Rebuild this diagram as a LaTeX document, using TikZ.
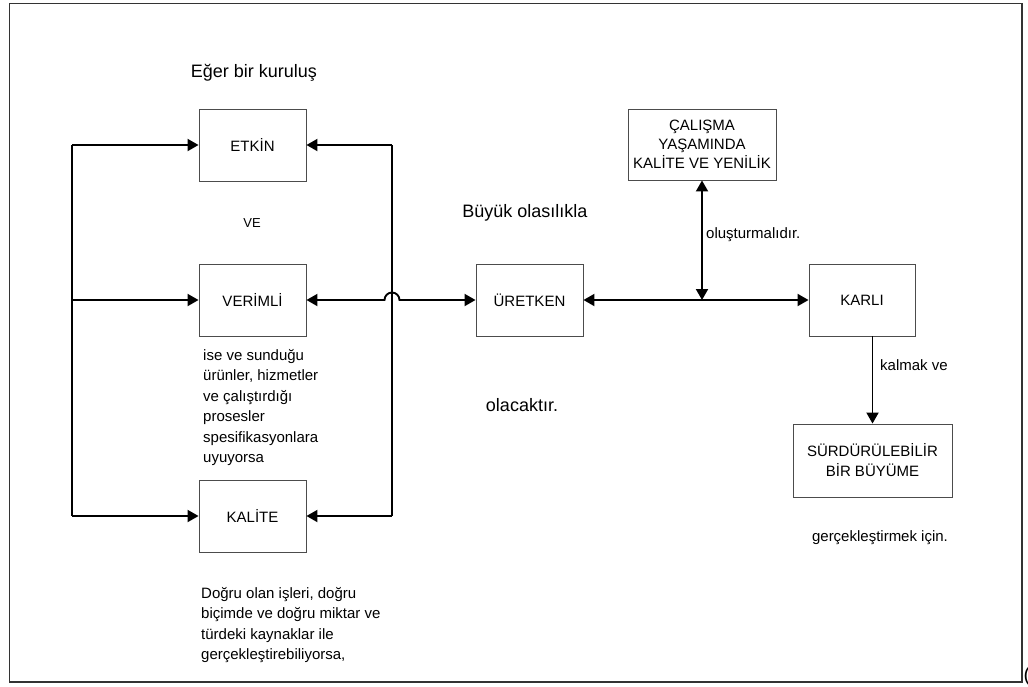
\documentclass[tikz,border=0pt]{standalone}
\usepackage{fontspec}
\setmainfont{Liberation Sans}
\usetikzlibrary{arrows.meta,calc}

\begin{document}
\begin{tikzpicture}[x=1pt,y=-1pt,
  box/.style={draw=black!70, line width=0.9pt, minimum width=107pt, minimum height=72pt,
    inner sep=0pt, align=center, font=\fontsize{15}{19}\selectfont},
  conn/.style={line width=1.9pt, black},
  tip/.tip={Triangle[length=11pt,width=12pt]},
  arr/.style={conn, -tip},
  darr/.style={conn, tip-tip},
  lbl/.style={inner sep=0pt, font=\fontsize{15}{20.5}\selectfont},
  big/.style={inner sep=0pt, font=\fontsize{18}{22}\selectfont}]

\useasboundingbox (0,0) rectangle (1028,686);
\draw[black!80, line width=1.3pt] (9.5,3.5) rectangle (1022,682);

% boxes
\node[box] (etkin) at (252.5,145) {ETKİN};
\node[box] (verimli) at (252.5,300) {VERİMLİ};
\node[box] (kalite) at (252.5,516) {KALİTE};
\node[box] (uretken) at (529.5,300) {ÜRETKEN};
\node[box, minimum width=106pt] (karli) at (862,300) {KARLI};
\node[box, minimum width=148pt, minimum height=71pt] (calisma) at (702,144.5)
  {ÇALIŞMA\\YAŞAMINDA\\KALİTE VE YENİLİK};
\node[box, minimum width=159pt, minimum height=73pt, font=\fontsize{15}{20}\selectfont] (surd) at (872.5,460.5)
  {SÜRDÜRÜLEBİLİR\\BİR BÜYÜME};

% bus lines on both sides of the left column
\coordinate (lt) at (72,145);
\coordinate (lm) at (72,300);
\coordinate (lb) at (72,516);
\coordinate (rt) at (392,145);
\coordinate (hop) at (392,300);
\coordinate (rb) at (392,516);
\coordinate (tee) at (calisma.south |- uretken.east);

\draw[conn] (lt) -- (lb);
\draw[arr] (lt) -- (etkin.west);
\draw[arr] (lm) -- (verimli.west);
\draw[arr] (lb) -- (kalite.west);
\draw[conn] (rt) -- (rb);
\draw[arr] (rt) -- (etkin.east);
\draw[arr] (rb) -- (kalite.east);

% main horizontal flow
\draw[darr] (uretken.west) -- ($(hop)+(7.5,0)$)
  arc[start angle=0, end angle=180, radius=7.5pt] -- (verimli.east);
\draw[darr] (uretken.east) -- (karli.west);
\draw[darr] (calisma.south) -- (tee);
\draw[arr] (surd.north |- karli.south) -- (surd.north);

% texts
\node[big] (eger) at (254,73) {Eğer bir kuruluş};
\node[inner sep=0pt, font=\fontsize{13}{15}\selectfont] (ve) at (252,223) {VE};
\node[big] (buyuk) at (525,213) {Büyük olasılıkla};
\node[big] (olacak) at (522,405) {olacaktır.};
\node[lbl, anchor=west] (olus) at (706,235) {oluşturmalıdır.};
\node[lbl, anchor=west] (kalmak) at (880,365) {kalmak ve};
\node[lbl] (gercek) at (880,538) {gerçekleştirmek için.};
\node[lbl, anchor=north west, align=left] (ise) at (203,349)
  {ise ve sunduğu\\ürünler, hizmetler\\ve çalıştırdığı\\prosesler\\spesifikasyonlara\\uyuyorsa};
\node[lbl, anchor=north west, align=left] (dogru) at (201,587)
  {Doğru olan işleri, doğru\\biçimde ve doğru miktar ve\\türdeki kaynaklar ile\\gerçekleştirebiliyorsa,};
\node[inner sep=0pt, anchor=west, font=\fontsize{20}{24}\selectfont] (cut) at (1023.5,676) {(};
\end{tikzpicture}
\end{document}
